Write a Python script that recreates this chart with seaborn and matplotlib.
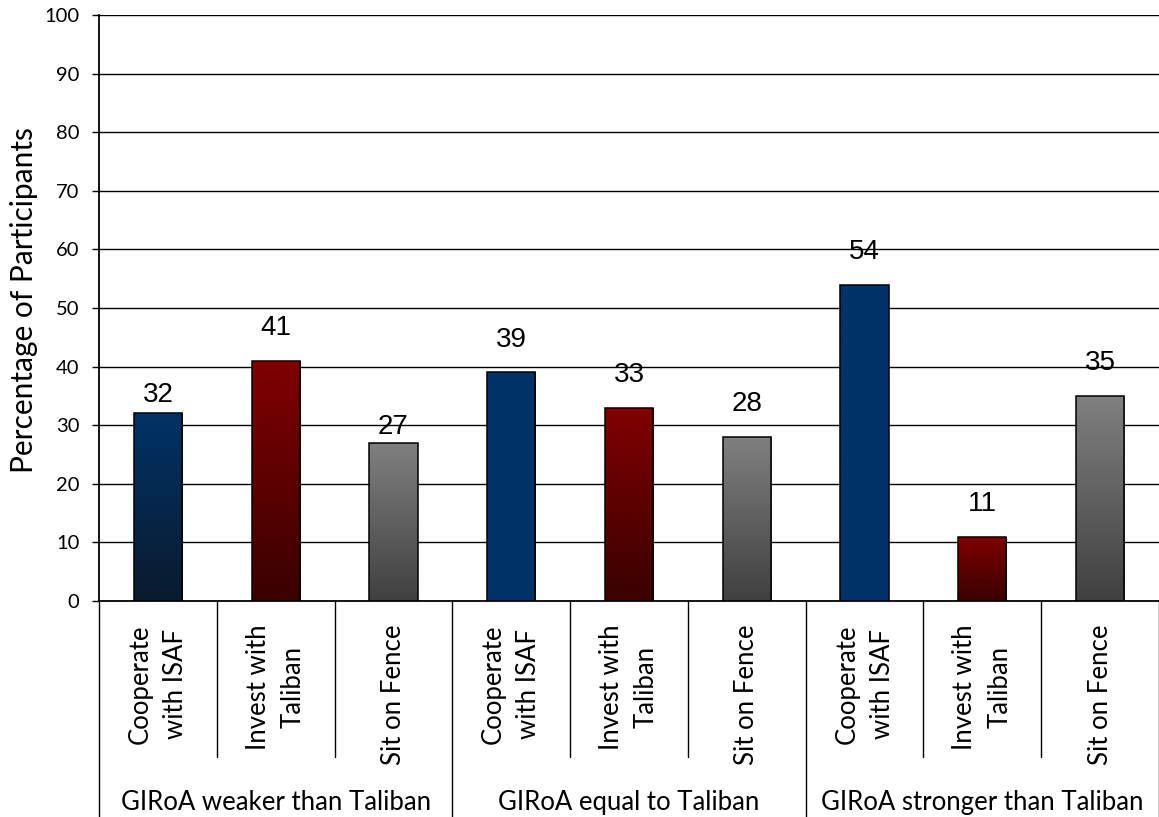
import numpy as np
import pandas as pd
import matplotlib
matplotlib.use("Agg")
import matplotlib.pyplot as plt
import seaborn as sns
from matplotlib.colors import LinearSegmentedColormap

# ---- data ----
groups = ["GIRoA weaker than Taliban", "GIRoA equal to Taliban", "GIRoA stronger than Taliban"]
actions = ["Cooperate\nwith ISAF", "Invest with\nTaliban", "Sit on Fence"]
values_weaker = [32, 41, 27]
values_equal = [39, 33, 28]
values_stronger = [54, 11, 35]
y_label = "Percentage of Participants"
y_ticks = [0, 10, 20, 30, 40, 50, 60, 70, 80, 90, 100]

# ---- styling ----
top_colors = {"Cooperate\nwith ISAF": "#003366", "Invest with\nTaliban": "#800000", "Sit on Fence": "#808080"}
bottom_colors = {"Cooperate\nwith ISAF": "#0b1a2e", "Invest with\nTaliban": "#3a0000", "Sit on Fence": "#404040"}
# which bars are drawn with gradient (the source chart has a few flat ones)
gradient_flags = [True, True, True, False, True, True, False, True, True]
label_offsets_pt = [4, 14, 2, 14, 14, 14, 14, 14, 14]

rows = []
for g, vals in zip(groups, [values_weaker, values_equal, values_stronger]):
    for a, v in zip(actions, vals):
        rows.append({"group": g, "action": a, "value": v, "key": f"{g}|{a}"})
df = pd.DataFrame(rows)

sns.set_style("white")
plt.rcParams["font.family"] = ["Lato", "DejaVu Sans"]
plt.rcParams["text.color"] = "black"
plt.rcParams["axes.labelcolor"] = "black"
plt.rcParams["ytick.color"] = "black"
plt.rcParams["ytick.labelsize"] = 14.5

fig = plt.figure(figsize=(11.59, 8.17), dpi=100)
ax = fig.add_axes([99 / 1159, (817 - 601) / 817, 1 - 99 / 1159, (601 - 15) / 817])

sns.barplot(data=df, x="key", y="value", order=list(df["key"]), ax=ax,
            width=0.41, color="white", edgecolor="black", linewidth=1.1,
            saturation=1, zorder=3)

patches = list(ax.patches)
for i, (p, row) in enumerate(zip(patches, rows)):
    x0, w, h = p.get_x(), p.get_width(), p.get_height()
    top = top_colors[row["action"]]
    bot = bottom_colors[row["action"]] if gradient_flags[i] else top
    cmap = LinearSegmentedColormap.from_list("g", [bot, top])
    grad = np.linspace(0, 1, 256).reshape(-1, 1)
    im = ax.imshow(grad, cmap=cmap, extent=[x0, x0 + w, 0, h], origin="lower",
                   aspect="auto", zorder=3, interpolation="bilinear")
    im.set_clip_path(p)
    p.set_facecolor("none")
    p.set_zorder(4)
    ax.annotate(str(row["value"]), (x0 + w / 2, h), xytext=(0, label_offsets_pt[i]),
                textcoords="offset points", ha="center", va="bottom",
                fontsize=20, family=["Liberation Sans", "DejaVu Sans"], color="black", zorder=5)

n = len(rows)
ax.set_xlim(-0.5, n - 0.5)
ax.set_ylim(0, 100)
ax.set_yticks(y_ticks)
ax.set_yticklabels([str(t) for t in y_ticks])
ax.tick_params(axis="y", length=5, width=1, color="black", labelcolor="black",
               labelsize=14.5, direction="out", pad=9, left=True)
ax.set_xticks([])
ax.set_xlabel("")
ax.set_ylabel(y_label, fontsize=21.5, color="black")
ax.yaxis.set_label_coords((38 - 99) / 1060, (601 - 300) / 586)

# grid lines
for t in y_ticks[1:]:
    ax.axhline(t, color="black", linewidth=1.0, zorder=1)

for s in ["top", "right"]:
    ax.spines[s].set_visible(False)
for s in ["left", "bottom"]:
    ax.spines[s].set_color("black")
    ax.spines[s].set_linewidth(1.3)

# category separators and labels below axis
tr = ax.get_xaxis_transform()
for k in range(n + 1):
    xb = k - 0.5
    is_group = (k % 3 == 0)
    ybot = -0.3686 if is_group else -0.266
    ax.plot([xb, xb], [0, ybot], transform=tr, color="black", linewidth=1.0, clip_on=False)

for i, row in enumerate(rows):
    ax.text(i, -0.040, row["action"], transform=tr, rotation=90, ha="center", va="top",
            multialignment="center", fontsize=18.5, linespacing=1.5)

for gi, g in enumerate(groups):
    ax.text(gi * 3 + 1, -0.344, g, transform=tr, ha="center", va="center", fontsize=18.5)

fig.savefig("out.png", dpi=100)
